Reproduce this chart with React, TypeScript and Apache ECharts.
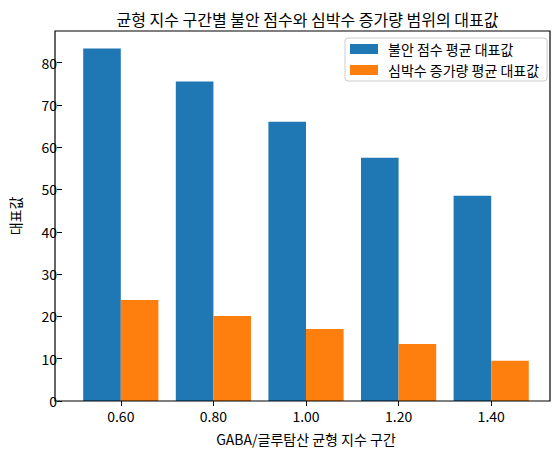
import React, { useEffect, useRef } from "react";
import * as echarts from "echarts";

const categories = ["0.60", "0.80", "1.00", "1.20", "1.40"];
const anxietyValues = [83.3, 75.5, 66.0, 57.5, 48.5];
const heartRateValues = [23.9, 20.1, 17.0, 13.5, 9.5];
const yTicks = [0, 10, 20, 30, 40, 50, 60, 70, 80];

const seriesNames = ["불안 점수 평균 대표값", "심박수 증가량 평균 대표값"];
const titleText = "균형 지수 구간별 불안 점수와 심박수 증가량 범위의 대표값";
const xLabel = "GABA/글루탐산 균형 지수 구간";
const yLabel = "대표값";

const FONT = "'Noto Sans CJK KR', 'Noto Sans', sans-serif";

export default function App() {
  const ref = useRef<HTMLDivElement>(null);
  useEffect(() => {
    if (!ref.current) return;
    const chart = echarts.init(ref.current, undefined, { renderer: "svg" });
    const frameL = 55, frameR = 550, frameT = 31, frameB = 401;
    const band = 94;
    const plotW = band * categories.length;
    const gridLeft = (frameL + frameR) / 2 - plotW / 2;
    const maxY = Math.max(...anxietyValues) * 1.05;
    chart.setOption({
      animation: false,
      backgroundColor: "#ffffff",
      textStyle: { fontFamily: FONT },
      title: {
        text: titleText,
        left: (frameL + frameR) / 2,
        textAlign: "center",
        top: 6,
        textStyle: { fontSize: 16, fontWeight: "normal", color: "#000", fontFamily: FONT },
      },
      legend: {
        orient: "vertical",
        left: 345,
        top: 38,
        width: 199,
        padding: [4, 8, 4, 5],
        itemWidth: 28,
        itemHeight: 10,
        itemGap: 7,
        borderColor: "#cccccc",
        borderWidth: 1,
        borderRadius: 3,
        icon: "rect",
        textStyle: { fontSize: 14, color: "#000", fontFamily: FONT, padding: [0, 0, 0, 5] },
        data: seriesNames,
      },
      grid: {
        left: gridLeft,
        width: plotW,
        top: frameT,
        height: frameB - frameT,
        containLabel: false,
      },
      xAxis: {
        type: "category",
        data: categories,
        name: xLabel,
        nameLocation: "middle",
        nameGap: 31,
        nameTextStyle: { fontSize: 14, color: "#000", fontFamily: FONT },
        axisLine: { show: false },
        axisTick: { show: true, alignWithLabel: true, length: 5, lineStyle: { color: "#000" } },
        axisLabel: { fontSize: 14, color: "#000", margin: 8, fontFamily: FONT },
        splitLine: { show: false },
      },
      yAxis: {
        type: "value",
        min: 0,
        max: maxY,
        interval: 10,
        offset: gridLeft - frameL,
        name: yLabel,
        nameLocation: "middle",
        nameGap: 40,
        nameRotate: 90,
        nameTextStyle: { fontSize: 14, color: "#000", fontFamily: FONT },
        axisLine: { show: false },
        axisTick: { show: true, length: 5, lineStyle: { color: "#000" }, customValues: yTicks },
        axisLabel: { fontSize: 14, color: "#000", margin: 5, fontFamily: FONT, customValues: yTicks },
        splitLine: { show: false },
      },
      series: [
        {
          name: seriesNames[0],
          type: "bar",
          data: anxietyValues,
          barWidth: band * 0.4,
          barGap: "0%",
          itemStyle: { color: "#1f77b4" },
        },
        {
          name: seriesNames[1],
          type: "bar",
          data: heartRateValues,
          barWidth: band * 0.4,
          barGap: "0%",
          itemStyle: { color: "#ff7f0e" },
        },
      ],
      graphic: [
        {
          type: "rect",
          silent: true,
          z: 10,
          shape: { x: frameL, y: frameT, width: frameR - frameL, height: frameB - frameT },
          style: { fill: "transparent", stroke: "#000000", lineWidth: 1.2 },
        },
      ],
    });
    return () => chart.dispose();
  }, []);
  return (
    <div
      ref={ref}
      style={{ position: "absolute", left: 0, top: 0, width: 560, height: 455 }}
    />
  );
}
